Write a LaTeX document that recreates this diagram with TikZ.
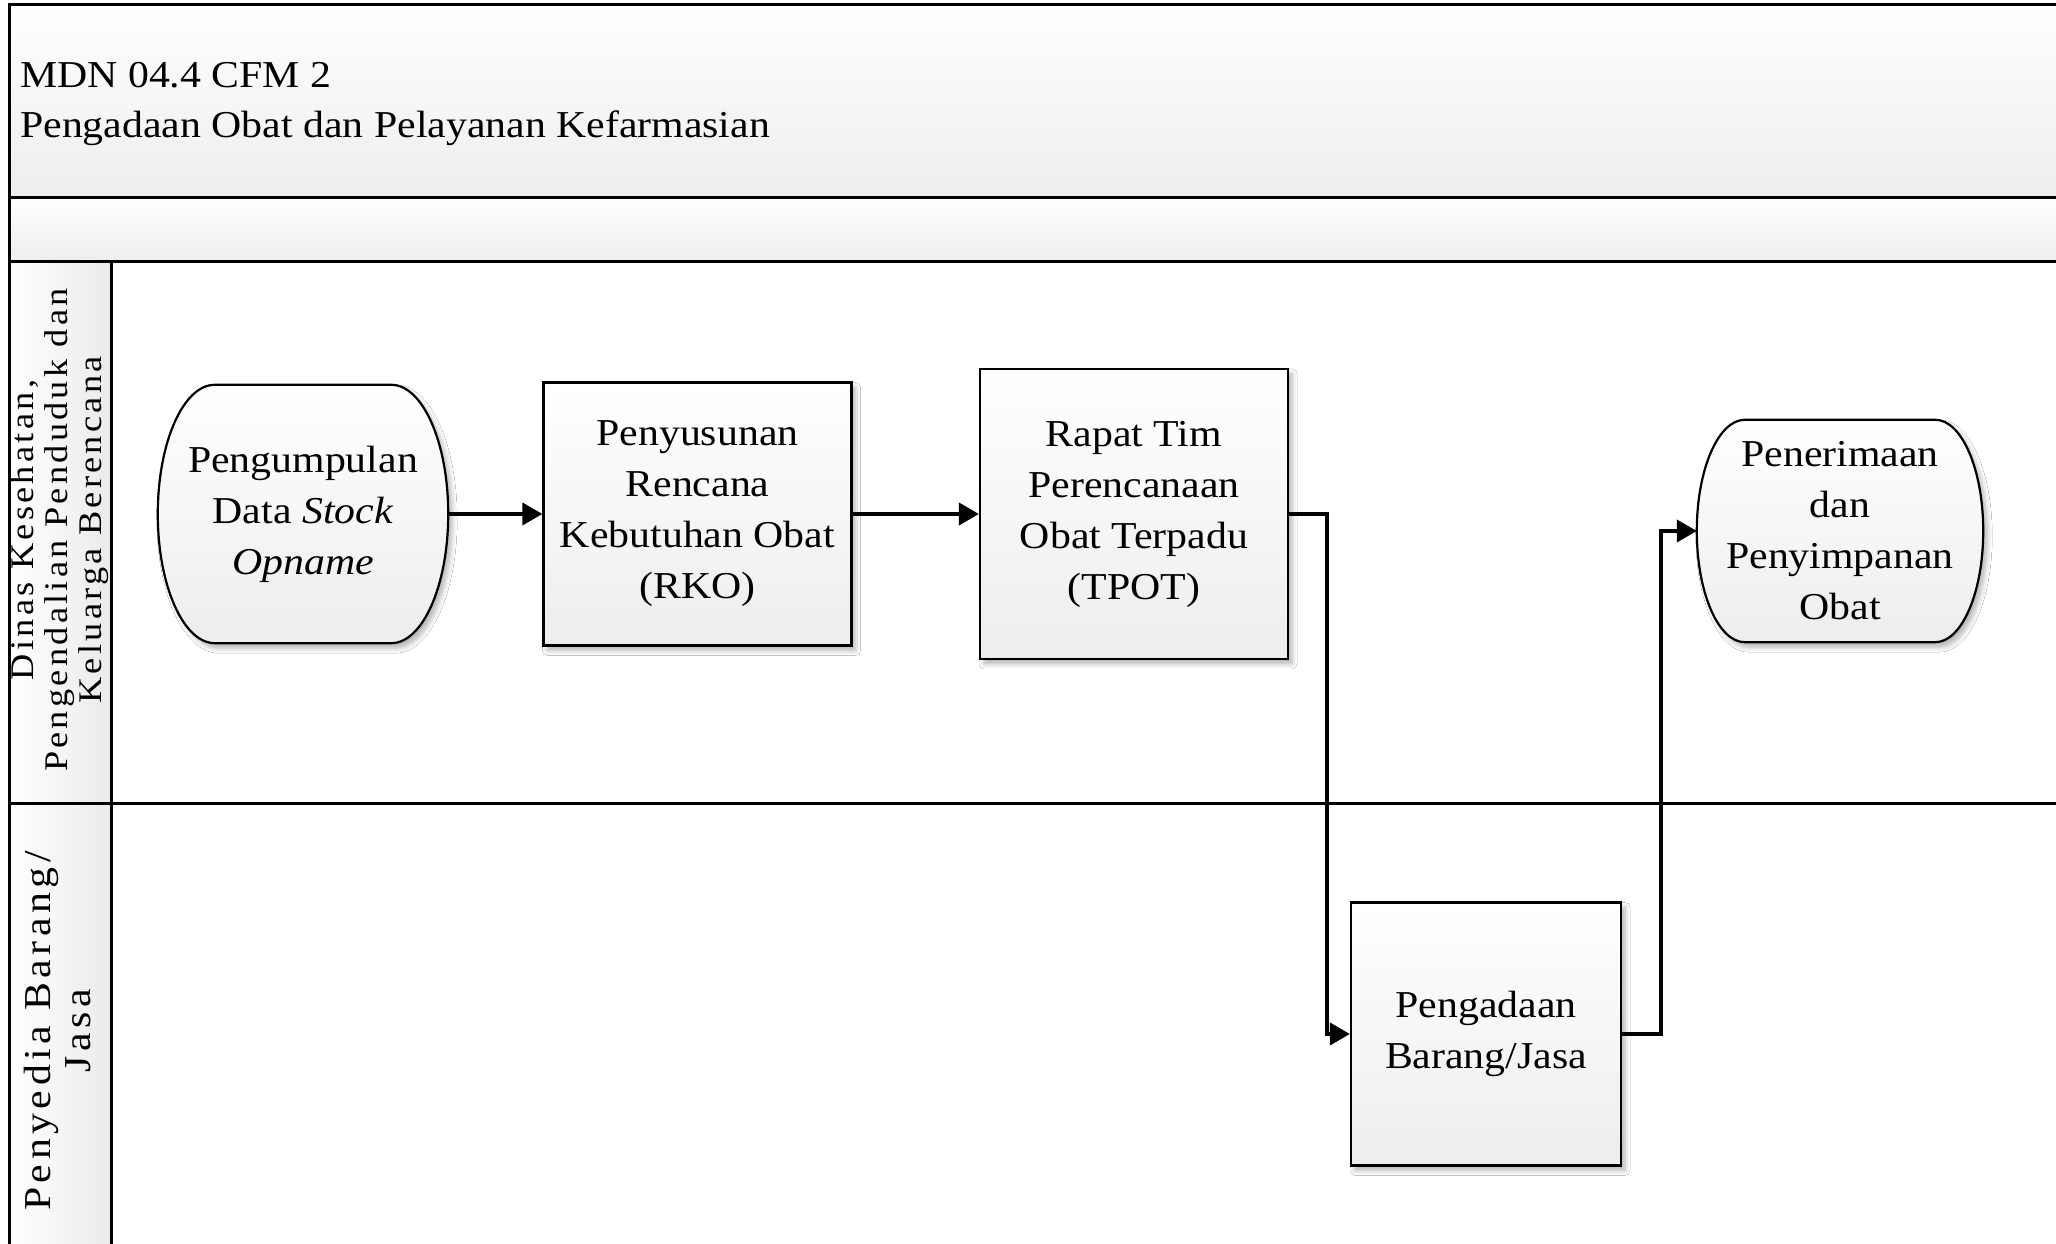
\documentclass[tikz,border=0pt]{standalone}
\usepackage{fontspec}
\setmainfont{Liberation Serif}[FakeStretch=1.1]
\usetikzlibrary{shadows.blur,arrows.meta,calc,backgrounds}
\newcommand\dgnodefont{\fontsize{38}{51}\selectfont}
\newcommand\dglaneAfont{\fontsize{33}{34}\selectfont\addfontfeature{LetterSpace=10}}
\newcommand\dglaneBfont{\fontsize{38}{40}\selectfont\addfontfeature{LetterSpace=12}}
\newcommand\dgterm[3]{%
  \path[termpath] ($(#1.north west)+(#2,0)$) -- ($(#1.north east)+(-#2,0)$)
    arc[start angle=90,end angle=0,x radius=#2,y radius=#3]
    -- ($(#1.south east)+(0,#3)$)
    arc[start angle=0,end angle=-90,x radius=#2,y radius=#3]
    -- ($(#1.south west)+(#2,0)$)
    arc[start angle=270,end angle=180,x radius=#2,y radius=#3]
    -- ($(#1.north west)+(0,-#3)$)
    arc[start angle=180,end angle=90,x radius=#2,y radius=#3] -- cycle;}
\begin{document}
\begin{tikzpicture}[x=1pt,y=1pt,
  frameline/.style={line width=3pt},
  dgshadow/.style={blur shadow={shadow xshift=4pt, shadow yshift=-5pt, shadow blur radius=5pt, shadow blur steps=6, shadow opacity=30}},
  procbox/.style={draw, line width=2.2pt, top color=white, bottom color=black!7, dgshadow, align=center, font=\dgnodefont, inner sep=0pt},
  termbox/.style={align=center, font=\dgnodefont, inner sep=0pt},
  termpath/.style={draw, line width=2.2pt, top color=white, bottom color=black!7, dgshadow},
  flow/.style={line width=3.8pt, -{Triangle[length=20pt,width=22pt]}},
  bandfill/.style={top color=white, bottom color=black!7},
]
\useasboundingbox (0,0) rectangle (2056,1244);
\clip (0,0) rectangle (2056,1244);
% swimlane frame backgrounds
\path[bandfill] (9,1239) rectangle (2090,1046);
\path[bandfill] (9,1046) rectangle (2090,982);
\path[left color=white, right color=black!8] (9,982) rectangle (111,-30);
% frame lines
\draw[frameline] (9,-30) -- (9,1239) -- (2090,1239);
\draw[frameline] (9,1046) -- (2090,1046);
\draw[frameline] (9,982) -- (2090,982);
\draw[frameline] (9,440) -- (2090,440);
\draw[frameline] (111,982) -- (111,-30);
% title
\node[anchor=base west, inner sep=0pt, font=\dgnodefont] (t1) at (20,1156) {MDN 04.4 CFM 2};
\node[anchor=base west, inner sep=0pt, font=\dgnodefont] (t2) at (20,1106) {Pengadaan Obat dan Pelayanan Kefarmasian};
% lane labels
\node[rotate=90, align=center, font=\dglaneAfont] (lane1) at (60,714) {Dinas Kesehatan,\\Pengendalian Penduduk dan\\Keluarga Berencana};
\node[rotate=90, align=center, font=\dglaneBfont] (lane2) at (58,213) {Penyedia Barang/\\Jasa};
% nodes
\node[termbox, minimum width=290pt, minimum height=258pt] (n1) at (303,730) {Pengumpulan\\Data \textit{Stock}\\\textit{Opname}};
\node[procbox, minimum width=308pt, minimum height=263pt] (n2) at (697.5,730) {Penyusunan\\Rencana\\Kebutuhan Obat\\(RKO)};
\node[procbox, minimum width=308pt, minimum height=290pt] (n3) at (1134,730) {Rapat Tim\\Perencanaan\\Obat Terpadu\\(TPOT)};
\node[termbox, minimum width=286pt, minimum height=222pt] (n4) at (1840,713) {Penerimaan\\dan\\Penyimpanan\\Obat};
\node[procbox, minimum width=270pt, minimum height=263pt] (n5) at (1486,210) {Pengadaan\\Barang/Jasa};
\begin{scope}[on background layer]
\fill[white] (0,0) rectangle (2056,1244);
\dgterm{n1}{57}{129}
\dgterm{n4}{48}{111}
\end{scope}
% connectors
\draw[flow] (n1.east) -- (n2.west);
\draw[flow] (n2.east) -- (n3.west);
\draw[flow] (n3.east) -- ++(38,0) |- (n5.west);
\draw[flow] (n5.east) -- ++(39,0) |- (n4.west);
\end{tikzpicture}
\end{document}
